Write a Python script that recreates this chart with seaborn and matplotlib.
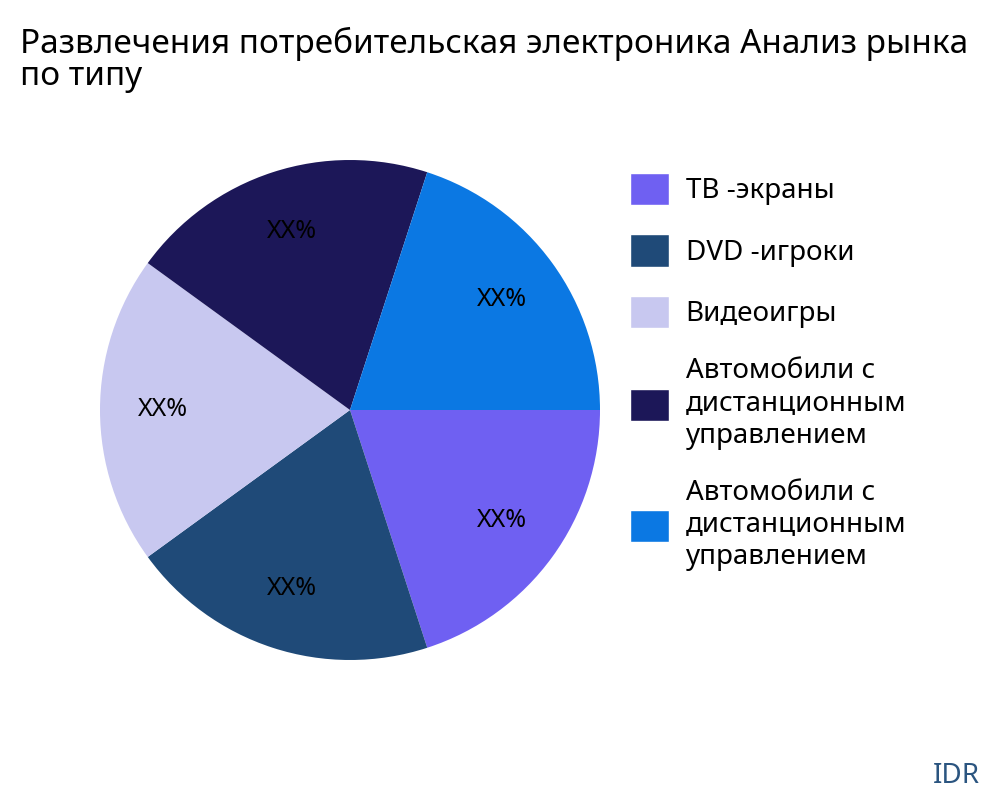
import matplotlib.pyplot as plt
import seaborn as sns
from matplotlib.patches import Patch

sns.set_theme(style="white")
plt.rcParams['font.family'] = ['Noto Sans', 'DejaVu Sans']

categories = ["ТВ -экраны", "DVD -игроки", "Видеоигры",
              "Автомобили с\nдистанционным\nуправлением",
              "Автомобили с\nдистанционным\nуправлением"]
shares = [20, 20, 20, 20, 20]
colors = ["#6F60F2", "#1F4A78", "#C8C8F0", "#1C1758", "#0B78E3"]

fig = plt.figure(figsize=(10, 8), dpi=100)
ax = fig.add_axes([0.1, 0.175, 0.5, 0.625])

ax.pie(shares, colors=colors, startangle=0, counterclock=False,
       autopct=lambda p: "XX%", pctdistance=0.75,
       wedgeprops={"linewidth": 0},
       textprops={"fontsize": 18, "color": "black"})
ax.set_xlim(-1, 1)
ax.set_ylim(-1, 1)
ax.set_aspect("equal")

handles = [Patch(facecolor=c, label=l) for c, l in zip(colors, categories)]
fig.legend(handles=handles, loc="upper left", bbox_to_anchor=(0.605, 0.815),
           frameon=False, fontsize=20, handlelength=1.4, handleheight=1.4,
           labelspacing=1.05, handletextpad=0.6, labelcolor="black")

fig.text(0.02, 0.925, "Развлечения потребительская электроника Анализ рынка\nпо типу",
         fontsize=24, va="center", ha="left", linespacing=0.95, color="black")
fig.text(0.98, 0.03, "IDR", fontsize=20, color="#2B5580", ha="right", va="center")

fig.savefig("out.png", dpi=100)
